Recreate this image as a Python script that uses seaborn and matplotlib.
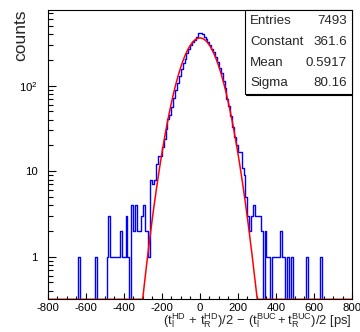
import matplotlib

matplotlib.use("Agg")
import matplotlib.pyplot as plt
import matplotlib.ticker as mticker
import numpy as np
import pandas as pd
import seaborn as sns
from matplotlib.lines import Line2D
from matplotlib.patches import Rectangle

# histogram: 160 bins of 10 ps from -800 to 800
BIN_LO, BIN_HI, N_BINS = -800, 800, 160
counts = [
    0, 0, 0, 0, 0, 0, 0, 0, 0, 0,
    0, 0, 0, 0, 0, 0, 1, 0, 0, 0,
    0, 0, 0, 0, 0, 1, 0, 0, 0, 0,
    0, 1, 3, 1, 1, 1, 1, 1, 2, 1,
    1, 3, 1, 0, 4, 2, 4, 2, 2, 3,
    4, 2, 2, 1, 8, 7, 8, 12, 15, 15,
    19, 24, 31, 41, 46, 57, 72, 90, 108, 130,
    155, 183, 207, 240, 272, 297, 324, 344, 375, 410,
    418, 400, 368, 347, 327, 301, 270, 246, 219, 187,
    160, 140, 112, 95, 70, 58, 44, 33, 25, 20,
    17, 17, 11, 9, 5, 3, 2, 3, 4, 3,
    3, 3, 2, 0, 2, 1, 1, 0, 1, 1,
    1, 1, 2, 1, 1, 0, 1, 0, 1, 0,
    0, 0, 0, 0, 0, 0, 1, 0, 0, 0,
    0, 0, 0, 1, 0, 0, 0, 0, 0, 0,
    0, 0, 0, 0, 0, 0, 0, 0, 0, 0,
]

# gaussian fit parameters (from the stats box)
FIT_CONSTANT = 361.6
FIT_MEAN = 0.5917
FIT_SIGMA = 80.16

stats_labels = ["Entries", "Constant", "Mean", "Sigma"]
stats_values = ["7493", "361.6", "0.5917", "80.16"]

x_ticks = [-800, -600, -400, -200, 0, 200, 400, 600, 800]
y_ticks = [1, 10, 100]
y_tick_labels = ["1", "10", r"$\mathregular{10^{2}}$"]
YMIN, YMAX = 0.318, 768


def main() -> None:
    sns.set_theme(style="white")
    plt.rcParams.update({
        "font.family": ["Liberation Sans", "DejaVu Sans"],
        "mathtext.fontset": "custom",
        "mathtext.rm": "Liberation Sans",
        "mathtext.it": "Liberation Sans:italic",
        "mathtext.bf": "Liberation Sans:bold",
        "axes.unicode_minus": False,
        "axes.edgecolor": "black",
        "axes.linewidth": 0.8,
    })

    width = (BIN_HI - BIN_LO) / N_BINS
    centers = BIN_LO + width * (np.arange(N_BINS) + 0.5)
    hist = pd.DataFrame({"dt": centers, "n": counts})

    xs = np.linspace(BIN_LO, BIN_HI, 1601)
    fit = FIT_CONSTANT * np.exp(-0.5 * ((xs - FIT_MEAN) / FIT_SIGMA) ** 2)
    fit_df = pd.DataFrame({"dt": xs, "f": np.maximum(fit, YMIN)})

    fig = plt.figure(figsize=(3.6, 3.32), dpi=100)
    ax = fig.add_axes([0.132, 0.0985, 0.846, 0.8715])

    sns.histplot(data=hist, x="dt", weights="n", bins=N_BINS, binrange=(BIN_LO, BIN_HI),
                 element="step", fill=False, color="#0000ff", linewidth=1.0, ax=ax)
    sns.lineplot(data=fit_df, x="dt", y="f", color="#ff0000", linewidth=1.1,
                 estimator=None, ax=ax)

    ax.set_yscale("log")
    ax.set_xlim(BIN_LO, BIN_HI)
    ax.set_ylim(YMIN, YMAX)
    ax.set_xlabel("")
    ax.set_ylabel("")
    ax.grid(False)

    ax.xaxis.set_major_locator(mticker.FixedLocator(x_ticks))
    ax.xaxis.set_minor_locator(mticker.MultipleLocator(50))
    ax.yaxis.set_major_locator(mticker.FixedLocator(y_ticks))
    ax.yaxis.set_major_formatter(mticker.FixedFormatter(y_tick_labels))
    ax.yaxis.set_minor_locator(mticker.LogLocator(base=10, subs=np.arange(2, 10)))
    ax.yaxis.set_minor_formatter(mticker.NullFormatter())

    ax.tick_params(which="both", direction="in", bottom=True, left=True, top=False,
                   right=False, width=0.8, colors="black", labelsize=8.2)
    ax.tick_params(axis="x", which="major", length=4.5, pad=2.5)
    ax.tick_params(axis="x", which="minor", length=2.2)
    ax.tick_params(axis="y", which="major", length=6, pad=7)
    ax.tick_params(axis="y", which="minor", length=3.5)
    for sp in ax.spines.values():
        sp.set_zorder(5)

    fig.text(0.058, 0.97, "counts", rotation=90, ha="center", va="top", fontsize=12.5)
    fig.text(0.978, 0.006,
             r"$\mathregular{(t_l^{HD}\,+\,t_R^{HD})/2\,-\,(t_l^{BUC}+t_R^{BUC})/2\ [ps]}$",
             ha="right", va="bottom", fontsize=9.4)

    # stats box
    x0, x1 = 245 / 360, 352 / 360
    y0, y1 = 1 - 94 / 332, 1 - 9.5 / 332
    fig.add_artist(Rectangle((x0, y0), x1 - x0, y1 - y0, transform=fig.transFigure,
                             facecolor="white", edgecolor="black", linewidth=0.8, zorder=6))
    fig.add_artist(Line2D([x0 + 1 / 360, x1], [y0 - 1 / 332, y0 - 1 / 332],
                          transform=fig.transFigure, color="black", linewidth=0.8, zorder=6))
    rows_y = [1 - 20.7 / 332, 1 - 41.7 / 332, 1 - 63.3 / 332, 1 - 83.3 / 332]
    for lab, val, yy in zip(stats_labels, stats_values, rows_y):
        fig.text(250 / 360, yy, lab, ha="left", va="center", fontsize=9.6, zorder=7)
        fig.text(347 / 360, yy, val, ha="right", va="center", fontsize=9.6, zorder=7)

    fig.savefig("out.png", dpi=100)
    plt.close(fig)


if __name__ == "__main__":
    main()
